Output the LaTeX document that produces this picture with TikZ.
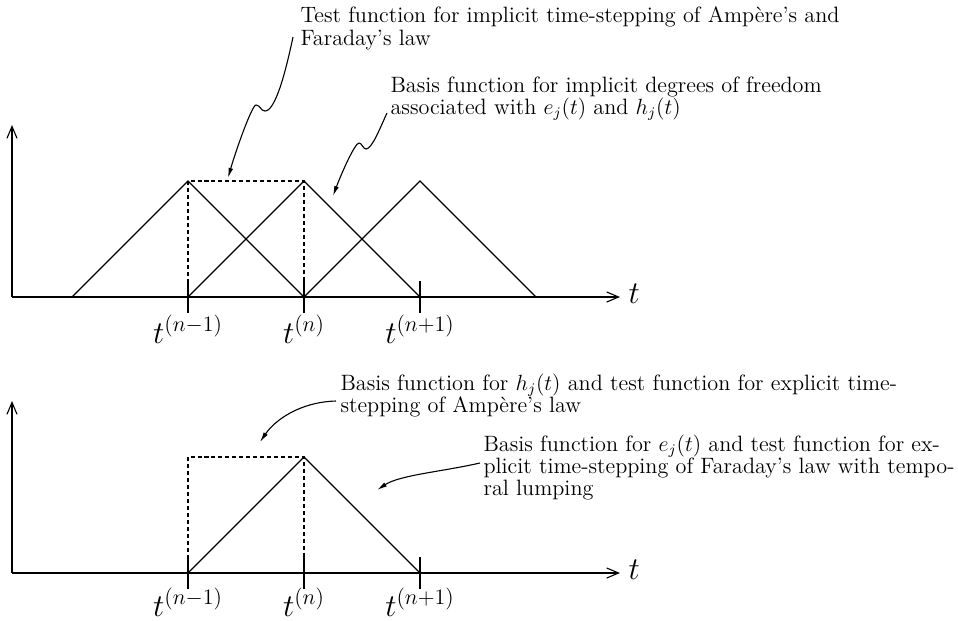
\documentclass[tikz,border=0pt]{standalone}
\usepackage{tikz}
\usetikzlibrary{arrows.meta}

\begin{document}
\begin{tikzpicture}[x=0.545pt,y=-0.545pt,line width=0.6pt,
 axis/.style={-{Straight Barb[length=6.5pt,width=5.5pt]}},
 guide/.style={dash pattern=on 2.2pt off 1.6pt},
 note/.style={anchor=north west,align=left,inner sep=0pt,font=\fontsize{12.1}{12.1}\selectfont},
 tlab/.style={anchor=base,font=\LARGE,inner sep=0pt},
 wig/.style={-{Latex[length=5.5pt,width=2.6pt]}}]
\useasboundingbox (0,0) rectangle (958,620);
% upper plot
\coordinate (o1) at (12,297);
\coordinate (y1) at (12,125);
\coordinate (x1) at (620,297);
\draw[axis] (o1) -- (y1);
\draw[axis] (o1) -- (x1);
\node[anchor=base west,font=\LARGE,inner sep=0pt] (tax1) at (628,303) {$t$};
\foreach \x in {188,304,420} \draw (\x-116,297) -- (\x,181) -- (\x+116,297);
\draw[guide] (188,297) -- (188,181) -- (304,181) -- (304,297);
\foreach \x/\lab [count=\i] in {188/n-1,304/n,420/n+1} {
  \draw (\x,281) -- (\x,313);
  \node[tlab] (tka\i) at (\x,343) {$t^{(\lab)}$};
}
\node[note] (testimp) at (300,6.5) {Test function for implicit time-stepping of Amp\`ere's and\\Faraday's law};
\node[note] (basisimp) at (390,76) {Basis function for implicit degrees of freedom\\associated with $e_j(t)$ and $h_j(t)$};
\coordinate (w1s) at (293,37);
\coordinate (w1e) at (228,178);
\coordinate (w2s) at (387,113);
\coordinate (w2e) at (333,196);
\draw[wig] (w1s) .. controls (285,75) and (275,111) .. (265,111)
  .. controls (261,111) and (260,105) .. (256,105)
  .. controls (252,105) and (236,150) .. (w1e);
\draw[wig] (w2s) .. controls (380,128) and (372,149) .. (366,149)
  .. controls (363,149) and (362,143) .. (359,143)
  .. controls (355,143) and (342,172) .. (w2e);
% lower plot
\coordinate (o2) at (12,573);
\coordinate (y2) at (12,401);
\coordinate (x2) at (620,573);
\draw[axis] (o2) -- (y2);
\draw[axis] (o2) -- (x2);
\node[anchor=base west,font=\LARGE,inner sep=0pt] (tax2) at (628,579) {$t$};
\draw (188,573) -- (304,457) -- (420,573);
\draw[guide] (188,573) -- (188,457) -- (304,457) -- (304,573);
\foreach \x/\lab [count=\i] in {188/n-1,304/n,420/n+1} {
  \draw (\x,557) -- (\x,589);
  \node[tlab] (tkb\i) at (\x,616) {$t^{(\lab)}$};
}
\node[note] (basish) at (340,373) {Basis function for $h_j(t)$ and test function for explicit time-\\stepping of Amp\`ere's law};
\node[note] (basise) at (483,434.5) {Basis function for $e_j(t)$ and test function for ex-\\plicit time-stepping of Faraday's law with tempo-\\ral lumping};
\coordinate (w3s) at (336,401);
\coordinate (w3e) at (260,442);
\coordinate (w4s) at (480,463);
\coordinate (w4e) at (377,490);
\draw[wig] (w3s) .. controls (300,402) and (275,420) .. (w3e);
\draw[wig] (w4s) .. controls (440,472) and (400,475) .. (w4e);
\end{tikzpicture}
\end{document}
